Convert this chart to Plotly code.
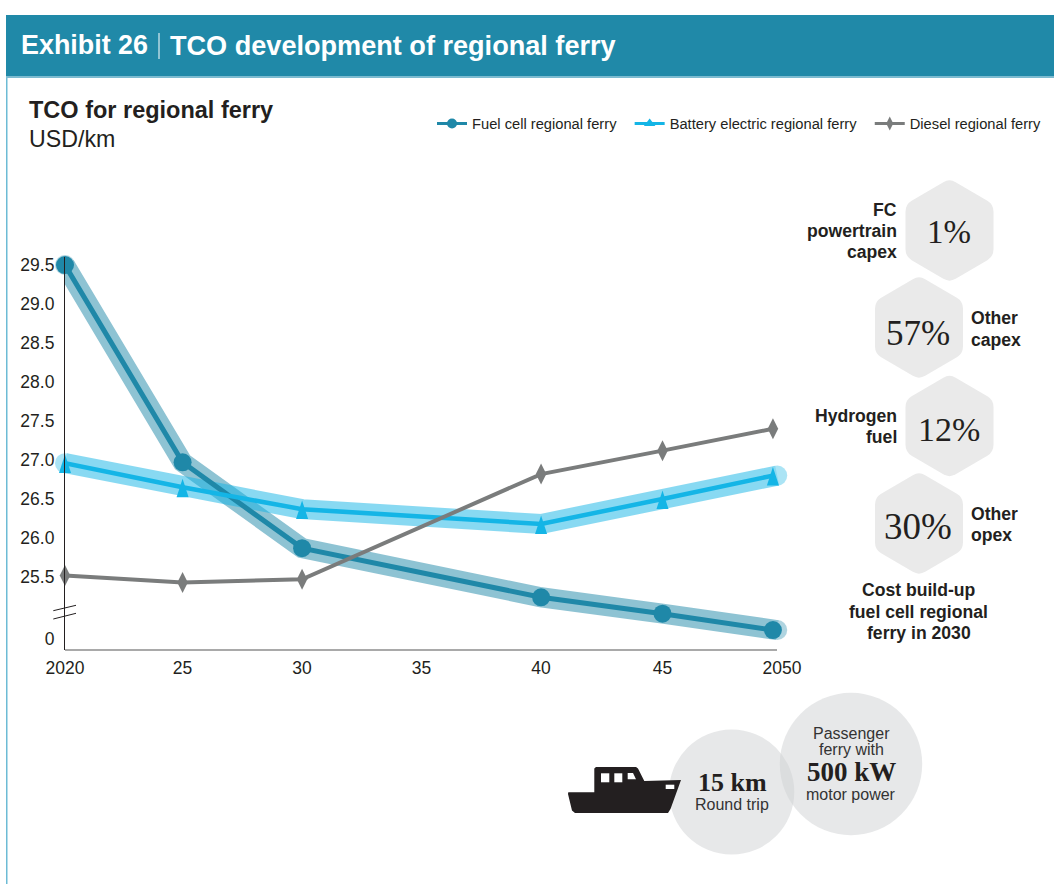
import plotly.graph_objects as go

W, H = 1054, 884

# ---- data ----
years = [2020, 2024.92, 2029.92, 2039.92, 2045, 2049.62]
halo_years = [2020, 2024.92, 2029.92, 2039.92, 2045, 2049.8]
fuel_cell = [29.50, 26.97, 25.87, 25.24, 25.03, 24.82]
battery = [26.96, 26.65, 26.37, 26.18, 26.50, 26.80]
diesel = [25.52, 25.43, 25.47, 26.82, 27.12, 27.40]
x_tick_vals = [2020, 2024.92, 2029.92, 2034.92, 2039.92, 2045, 2050]
x_tick_text = ["2020", "25", "30", "35", "40", "45", "2050"]
y_tick_vals = [24.705, 25.5, 26, 26.5, 27, 27.5, 28, 28.5, 29, 29.5]
y_tick_text = ["0", "25.5", "26.0", "26.5", "27.0", "27.5", "28.0", "28.5", "29.0", "29.5"]
series_names = ["Fuel cell regional ferry", "Battery electric regional ferry", "Diesel regional ferry"]

TEAL, CYAN, GREY = "#1F88A8", "#14B5E6", "#7A7C7C"
INK = "#231F20"
SANS, SERIF = "Liberation Sans", "Liberation Serif"


def fx(x):
    return x / W


def fy(y):
    return 1 - y / H


def poly(points, closed=True):
    s = "M " + " L ".join(f"{fx(x):.5f},{fy(y):.5f}" for x, y in points)
    return s + (" Z" if closed else "")


def hexagon(cx, cy, a=44, r=52, k=0.14):
    # flat-sided hexagon with softened corners
    v = [(cx, cy - r), (cx + a, cy - r / 2), (cx + a, cy + r / 2),
         (cx, cy + r), (cx - a, cy + r / 2), (cx - a, cy - r / 2)]
    parts = []
    n = len(v)
    for i in range(n):
        px, py = v[i - 1]
        qx, qy = v[i]
        nx, ny = v[(i + 1) % n]
        a1 = (qx + (px - qx) * k, qy + (py - qy) * k)
        a2 = (qx + (nx - qx) * k, qy + (ny - qy) * k)
        parts.append(("M " if i == 0 else "L ") + f"{fx(a1[0]):.5f},{fy(a1[1]):.5f}")
        parts.append(f"Q {fx(qx):.5f},{fy(qy):.5f} {fx(a2[0]):.5f},{fy(a2[1]):.5f}")
    return " ".join(parts) + " Z"


fig = go.Figure()

# wide translucent bands under the lines
for vals, col in ((fuel_cell, TEAL), (battery, CYAN)):
    fig.add_trace(go.Scatter(
        x=halo_years, y=vals, mode="lines+markers", showlegend=False, hoverinfo="skip",
        opacity=0.5, cliponaxis=False,
        line=dict(color=col, width=20),
        marker=dict(color=col, size=[20, 0, 0, 0, 0, 20], line=dict(width=0)),
    ))

styles = [
    (fuel_cell, TEAL, "circle", 18, 5, 10),
    (battery, CYAN, None, 0, 4.5, 10),
    (diesel, GREY, "diamond-tall", 15, 4, 10),
]
for name, (vals, col, sym, size, lw, _) in zip(series_names, styles):
    fig.add_trace(go.Scatter(
        x=years, y=vals, mode="lines+markers" if sym else "lines", name=name, showlegend=False, cliponaxis=False,
        line=dict(color=col, width=lw),
        marker=dict(color=col, symbol=sym or "circle", size=size, line=dict(width=0)),
    ))
# slim triangles: the "arrow" symbol hangs below its point, so lift it to centre it on the line
fig.add_trace(go.Scatter(
    x=years, y=[v + 0.11 for v in battery], mode="markers", showlegend=False, hoverinfo="skip", cliponaxis=False,
    marker=dict(color=CYAN, symbol="arrow", size=19.5, line=dict(width=0)),
))
# legend entries with their smaller glyphs
legend_symbols = ["circle", "triangle-up", "diamond-tall"]
for name, (vals, col, sym, size, lw, ms), ls in zip(series_names, styles, legend_symbols):
    fig.add_trace(go.Scatter(
        x=[None], y=[None], mode="lines+markers", name=name + "\u00a0\u00a0",
        line=dict(color=col, width=3), marker=dict(color=col, symbol=ls, size=ms, line=dict(width=0)),
    ))

shapes = []


def rect(x0, y0, x1, y1, col):
    shapes.append(dict(type="rect", xref="paper", yref="paper", x0=fx(x0), x1=fx(x1), y0=fy(y0), y1=fy(y1),
                       fillcolor=col, line=dict(width=0), layer="below"))


def seg(x0, y0, x1, y1, col, w=1):
    shapes.append(dict(type="line", xref="paper", yref="paper", x0=fx(x0), x1=fx(x1), y0=fy(y0), y1=fy(y1),
                       line=dict(color=col, width=w), layer="above"))


rect(6, 15, 1054, 76, "#2089A8")
rect(6, 76, 1054, 78, "#7CBBD0")
rect(6, 78, 7.5, 884, "#6DBBD5")
seg(159, 33, 159, 59, "#FFFFFF", 1)

# x axis baseline stops short of the 2050 label
seg(65, 650, 777, 650, "#555555", 1.2)
# axis break
seg(53.3, 610.7, 76, 605.3, INK, 1)
seg(53.3, 619, 76, 613.3, INK, 1)

# hexagons
for cx, cy in ((949.5, 230.5), (919, 327.5), (949.5, 426), (919, 523.5)):
    shapes.append(dict(type="path", xref="paper", yref="paper", path=hexagon(cx, cy),
                       fillcolor="#EAEAEA", line=dict(width=0), layer="below"))

# circles
for cx, cy, r in ((731.7, 792, 62.6), (851, 764, 71.2)):
    shapes.append(dict(type="circle", xref="paper", yref="paper", x0=fx(cx - r), x1=fx(cx + r),
                       y0=fy(cy + r), y1=fy(cy - r), fillcolor="#D0D2D3", opacity=0.5,
                       line=dict(width=0), layer="below"))

# ship
hull = [(568.3, 792.3), (594.3, 792.3), (594.3, 768.5), (596, 767), (636, 767), (638, 768.5), (644.3, 781),
        (681, 780), (670.5, 809), (668, 813), (575, 813), (572, 810.5), (568, 794)]
shapes.append(dict(type="path", xref="paper", yref="paper", path=poly(hull), fillcolor=INK, line=dict(width=0),
                   layer="above"))
for win in ([(601, 773.3), (609.3, 773.3), (609.3, 782.3), (601, 782.3)],
            [(614.3, 773.3), (622.3, 773.3), (622.3, 782.3), (614.3, 782.3)],
            [(627.7, 773), (633, 773), (636, 779.3), (627.7, 779.3)],
            [(665.7, 784.7), (674.3, 784.7), (674.3, 789), (665.7, 789)]):
    shapes.append(dict(type="path", xref="paper", yref="paper", path=poly(win), fillcolor="#FFFFFF",
                       line=dict(width=0), layer="above"))

ann = []


def label(text, x, y, size, anchor="left", bold=False, font=SANS, col=INK):
    ann.append(dict(text=f"<b>{text}</b>" if bold else text, x=fx(x), y=fy(y), xref="paper", yref="paper",
                    xanchor=anchor, yanchor="middle", showarrow=False, borderpad=0,
                    font=dict(family=font, size=size, color=col)))


label("Exhibit 26", 20, 45, 26.9, bold=True, col="#FFFFFF")
label("TCO development of regional ferry", 169, 45, 27.1, bold=True, col="#FFFFFF")
label("TCO for regional ferry", 28, 110, 23.5, bold=True)
label("USD/km", 28, 139, 23.2)

for t, y in (("FC", 210), ("powertrain", 231), ("capex", 252)):
    label(t, 898, y, 17.6, "right", True)
for t, y in (("Other", 318), ("capex", 340)):
    label(t, 970, y, 17.6, "left", True)
for t, y in (("Hydrogen", 416), ("fuel", 437)):
    label(t, 898, y, 17.6, "right", True)
for t, y in (("Other", 514), ("opex", 535)):
    label(t, 970, y, 17.6, "left", True)
for t, y in (("Cost build-up", 590), ("fuel cell regional", 612), ("ferry in 2030", 633)):
    label(t, 918.5, y, 17.6, "center", True)

for t, x, y, s in (("1%", 949, 232, 33), ("57%", 918, 333, 35), ("12%", 949, 429, 34), ("30%", 918, 526, 37)):
    label(t, x, y, s, "center", font=SERIF)

label("15 km", 732, 782, 26, "center", True, SERIF)
label("Round trip", 732, 804, 16, "center", col="#333333")
label("Passenger", 851, 733.5, 16, "center", col="#333333")
label("ferry with", 851, 749.5, 16, "center", col="#333333")
label("500 kW", 851, 771.5, 27, "center", True, SERIF)
label("motor power", 851, 794, 16, "center", col="#333333")

fig.update_layout(
    width=W, height=H, margin=dict(l=0, r=0, t=0, b=0),
    paper_bgcolor="#FFFFFF", plot_bgcolor="rgba(0,0,0,0)", shapes=shapes, annotations=ann,
    font=dict(family=SANS, color=INK),
    hovermode=False,
    legend=dict(orientation="h", x=1, y=fy(124), xanchor="right", yanchor="middle",
                font=dict(family=SANS, size=14.7, color=INK), bgcolor="rgba(0,0,0,0)",
                itemclick=False, itemdoubleclick=False),
    xaxis=dict(domain=[fx(65), fx(782)], range=[2020, 2050], tickmode="array", tickvals=x_tick_vals,
               ticktext=x_tick_text, showgrid=False, zeroline=False, showline=False, automargin=False,
               ticks="outside", ticklen=2, tickcolor="rgba(0,0,0,0)", tickfont=dict(family=SANS, size=17.5, color=INK)),
    yaxis=dict(domain=[fy(650), fy(257)], range=[24.564, 29.603], tickmode="array", tickvals=y_tick_vals,
               ticktext=y_tick_text, showgrid=False, zeroline=False, showline=True, linecolor=INK, linewidth=1.2,
               automargin=False,
               ticks="outside", ticklen=6, tickcolor="rgba(0,0,0,0)", tickfont=dict(family=SANS, size=17.5, color=INK)),
)

fig.write_html("out.html", config=dict(displayModeBar=False),
               post_script="document.body.style.margin='0';")
